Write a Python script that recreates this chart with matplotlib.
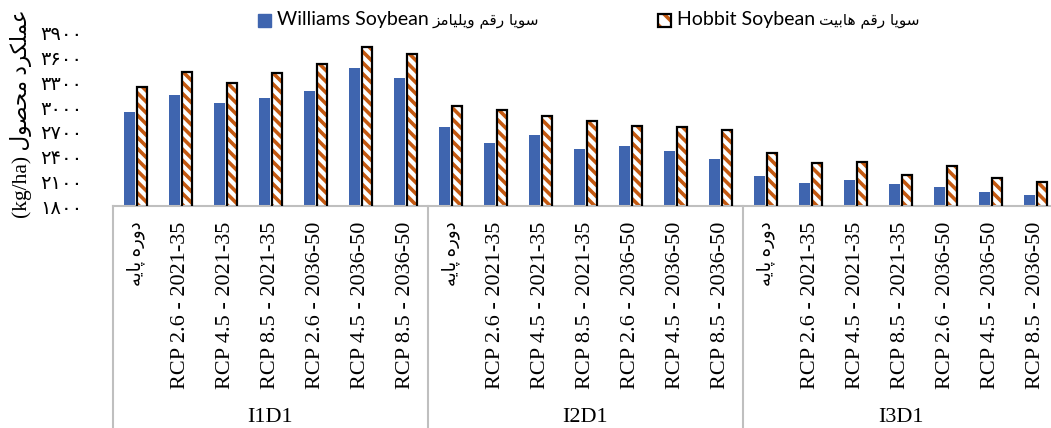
import matplotlib.pyplot as plt
from matplotlib.patches import Rectangle
import numpy as np

groups = ['I1D1', 'I2D1', 'I3D1']
scenarios = ['دوره پایه', 'RCP 2.6 - 2021-35', 'RCP 4.5 - 2021-35', 'RCP 8.5 - 2021-35',
             'RCP 2.6 - 2036-50', 'RCP 4.5 - 2036-50', 'RCP 8.5 - 2036-50']

williams = [2940, 3145, 3045, 3110, 3190, 3480, 3350,
            2755, 2570, 2660, 2490, 2525, 2465, 2365,
            2170, 2080, 2115, 2065, 2030, 1975, 1935]
hobbit = [3245, 3430, 3295, 3415, 3525, 3730, 3645,
          3015, 2965, 2895, 2830, 2775, 2765, 2720,
          2445, 2320, 2340, 2175, 2285, 2135, 2090]

yticks = [1800, 2100, 2400, 2700, 3000, 3300, 3600, 3900]
williams_label = ('Williams Soybean', 'سویا رقم ویلیامز')
hobbit_label = ('Hobbit Soybean', 'سویا رقم هابیت')
ylabel = ('عملکرد محصول', '(kg/ha)')

# matplotlib does no arabic shaping, so pick presentation forms by hand
# (isolated, final, initial, medial); None = letter does not join the next one
FORMS = {
    'ا': ('\uFE8D', '\uFE8E', None, None),
    'ب': ('\uFE8F', '\uFE90', '\uFE91', '\uFE92'),
    'ت': ('\uFE95', '\uFE96', '\uFE97', '\uFE98'),
    'ح': ('\uFEA1', '\uFEA2', '\uFEA3', '\uFEA4'),
    'د': ('\uFEA9', '\uFEAA', None, None),
    'ر': ('\uFEAD', '\uFEAE', None, None),
    'ز': ('\uFEAF', '\uFEB0', None, None),
    'س': ('\uFEB1', '\uFEB2', '\uFEB3', '\uFEB4'),
    'ص': ('\uFEB9', '\uFEBA', '\uFEBB', '\uFEBC'),
    'ع': ('\uFEC9', '\uFECA', '\uFECB', '\uFECC'),
    'ق': ('\uFED5', '\uFED6', '\uFED7', '\uFED8'),
    'ل': ('\uFEDD', '\uFEDE', '\uFEDF', '\uFEE0'),
    'م': ('\uFEE1', '\uFEE2', '\uFEE3', '\uFEE4'),
    'ه': ('\uFEE9', '\uFEEA', '\uFEEB', '\uFEEC'),
    'و': ('\uFEED', '\uFEEE', None, None),
    'ی': ('\uFBFC', '\uFBFD', '\uFBFE', '\uFBFF'),
    'پ': ('\uFB56', '\uFB57', '\uFB58', '\uFB59'),
    'ک': ('\uFB8E', '\uFB8F', '\uFB90', '\uFB91'),
}


def rtl(text):
    out = []
    for i, ch in enumerate(text):
        if ch not in FORMS:
            out.append(ch)
            continue
        prev = text[i - 1] if i > 0 else None
        nxt = text[i + 1] if i + 1 < len(text) else None
        join_prev = prev in FORMS and FORMS[prev][2] is not None
        join_next = nxt in FORMS and FORMS[ch][2] is not None
        iso, fin, ini, med = FORMS[ch]
        if join_prev and join_next:
            out.append(med)
        elif join_prev:
            out.append(fin)
        elif join_next:
            out.append(ini)
        else:
            out.append(iso)
    return ''.join(reversed(out))


def fa_digits(v):
    return str(v).translate(str.maketrans('0123456789', '۰۱۲۳۴۵۶۷۸۹'))


def label(s):
    return rtl(s) if s[0] in FORMS else s


BLUE = '#3F65AF'
ORANGE = '#C55A11'
GRAY = '#BFBFBF'
SERIF = ['Liberation Serif', 'DejaVu Sans']
SANS = ['Lato', 'DejaVu Sans']

plt.rcParams['hatch.linewidth'] = 2.6

fig = plt.figure(figsize=(10.51, 4.28), dpi=100)
W, H = 1051, 428
ax = fig.add_axes([113 / W, (H - 206) / H, 945 / W, 173 / H])

n = len(groups) * len(scenarios)
x = np.arange(n)
ax.bar(x - 0.135, williams, width=0.23, color=BLUE, zorder=2)
ax.bar(x + 0.145, hobbit, width=0.23, color='white', edgecolor=ORANGE,
       hatch='\\\\\\', linewidth=0, zorder=2)
ax.bar(x + 0.145, hobbit, width=0.23, fill=False, edgecolor='black',
       linewidth=1.6, zorder=3)

ax.set_xlim(-0.5, n - 0.5)
ax.set_ylim(1800, 3900)
ax.set_yticks(yticks)
ax.set_yticklabels([fa_digits(v) for v in yticks], fontsize=14,
                   family=['DejaVu Sans'])
ax.tick_params(axis='y', length=0, pad=22)

ax.set_xticks(x)
ax.set_xticklabels([label(s) for s in scenarios] * len(groups), rotation=90,
                   fontsize=16, family=SERIF, va='top', ha='center')
for t in ax.get_xticklabels():
    if t.get_text()[0] not in 'RI':
        t.set_fontsize(13)
ax.tick_params(axis='x', length=0, pad=11)

for s in ['top', 'right', 'left']:
    ax.spines[s].set_visible(False)
ax.spines['bottom'].set_color(GRAY)
ax.spines['bottom'].set_linewidth(1.5)

# group box lines below the axis
tr = ax.get_xaxis_transform()
for b in np.arange(len(groups) + 1) * len(scenarios) - 0.5:
    ax.plot([b, b], [0, -222 / 173], transform=tr, color=GRAY, lw=1.5,
            clip_on=False)
for i, g in enumerate(groups):
    ax.text(i * len(scenarios) + 3, -211 / 173, g, transform=tr,
            ha='center', va='center', fontsize=16, family=SERIF)

fig.text(21 / W, (H - 114) / H, ylabel[1] + ' ' + rtl(ylabel[0]),
         rotation=90, ha='center', va='center', fontsize=15.5, family=SERIF)

# legend drawn by hand: marker, latin name, then persian name
fig.canvas.draw()
r = fig.canvas.get_renderer()


def legend_entry(x0, draw_marker, names):
    draw_marker(x0)
    t = fig.text((x0 + 19) / W, (H - 20) / H, names[0], ha='left', va='center',
                 fontsize=14, family=SANS)
    x1 = t.get_window_extent(r).x1
    fig.text((x1 + 4) / W, (H - 20) / H, rtl(names[1]), ha='left',
             va='center', fontsize=11, family=['DejaVu Sans'])


def blue_box(x0):
    fig.add_artist(Rectangle((x0 / W, (H - 27) / H), 13 / W, 13 / H,
                             transform=fig.transFigure, color=BLUE))


def hatch_box(x0):
    fig.add_artist(Rectangle((x0 / W, (H - 27) / H), 13 / W, 13 / H,
                             transform=fig.transFigure, facecolor='white',
                             edgecolor=ORANGE, hatch='\\\\', lw=0))
    fig.add_artist(Rectangle((x0 / W, (H - 27) / H), 13 / W, 13 / H,
                             transform=fig.transFigure, fill=False,
                             edgecolor='black', lw=1.6))


legend_entry(258, blue_box, williams_label)
legend_entry(658, hatch_box, hobbit_label)

fig.savefig('out.png', dpi=100)
